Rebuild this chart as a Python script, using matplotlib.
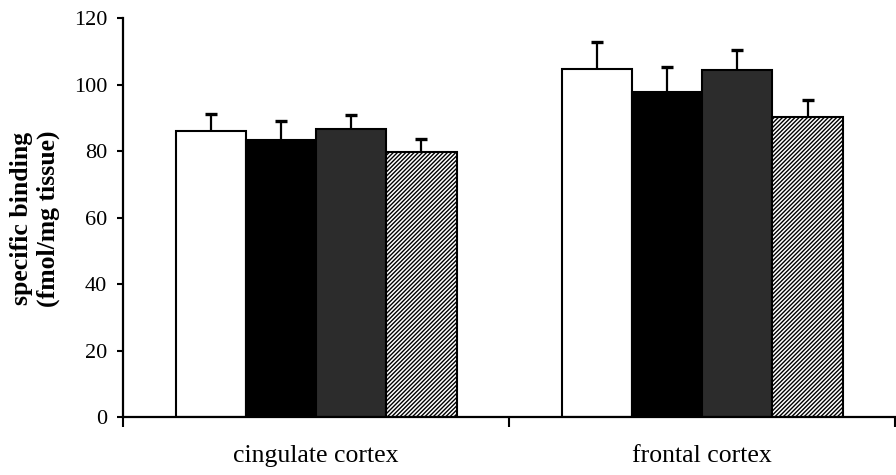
"""Specific binding in cingulate and frontal cortex, four groups per region."""

import matplotlib

matplotlib.use("Agg")
import matplotlib.pyplot as plt
import numpy as np

regions = ["cingulate cortex", "frontal cortex"]
# one entry per group, values per region
means = {
    "g1": [86.1, 104.7],
    "g2": [83.3, 97.8],
    "g3": [86.7, 104.3],
    "g4": [79.7, 90.1],
}
sems = {
    "g1": [5.0, 8.2],
    "g2": [5.8, 7.4],
    "g3": [4.2, 6.1],
    "g4": [3.8, 5.2],
}
y_ticks = [0, 20, 40, 60, 80, 100, 120]

styles = {
    "g1": dict(color="white", hatch=None),
    "g2": dict(color="black", hatch=None),
    "g3": dict(color="#2c2c2c", hatch=None),
    "g4": dict(color="white", hatch="////////"),
}

plt.rcParams["font.family"] = ["Liberation Serif", "DejaVu Serif"]
plt.rcParams["hatch.linewidth"] = 1.0

fig = plt.figure(figsize=(8.96, 4.75), dpi=100)
ax = fig.add_axes([0.1373, 0.1221, 0.8683, 0.84])

x = np.arange(len(regions))
width = 0.182
groups = list(means)
offsets = (np.arange(len(groups)) - (len(groups) - 1) / 2) * width

for off, g in zip(offsets, groups):
    st = styles[g]
    ax.bar(x + off, means[g], width, color=st["color"], hatch=st["hatch"],
           edgecolor="black", linewidth=1.5, zorder=2)
    eb = ax.errorbar(x + off, means[g], yerr=[np.zeros(len(regions)), sems[g]],
                     fmt="none", ecolor="black", elinewidth=1.6, capsize=4.5,
                     capthick=2.4, zorder=3)
    # upper error only: hide the cap sitting on the bar top
    eb[1][0].set_visible(False)

ax.set_xlim(-0.5, 1.515)
ax.set_ylim(0, 120)
ax.set_yticks(y_ticks)
ax.tick_params(axis="y", direction="out", length=4.5, width=1.5, pad=7,
               labelsize=16)

# major ticks mark region boundaries, minor ticks carry the labels
ax.set_xticks([-0.5, 0.5, 1.5])
ax.set_xticklabels([])
ax.tick_params(axis="x", which="major", direction="out", length=7.5, width=1.5)
ax.set_xticks(x, minor=True)
ax.set_xticklabels(regions, minor=True)
ax.tick_params(axis="x", which="minor", length=0, pad=20, labelsize=18.5)

for side in ("top", "right"):
    ax.spines[side].set_visible(False)
for side in ("left", "bottom"):
    ax.spines[side].set_linewidth(1.6)

fig.text(0.039, 0.540, "specific binding\n(fmol/mg tissue)", rotation=90,
         ha="center", va="center", multialignment="center",
         fontsize=18.5, fontweight="bold", linespacing=1.15)

fig.savefig("out.png", dpi=100)
